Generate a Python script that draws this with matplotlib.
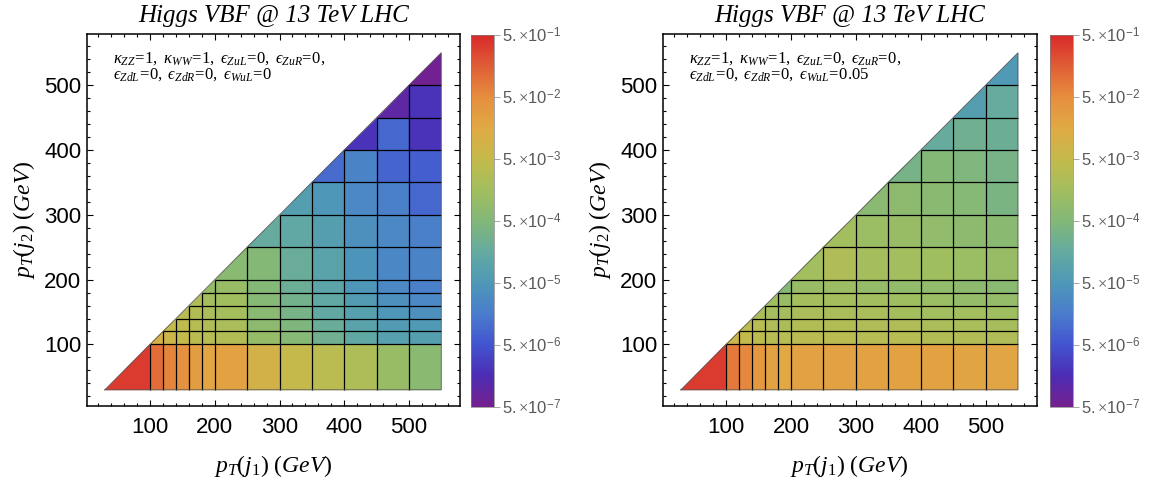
import numpy as np
import matplotlib
matplotlib.use('Agg')
import matplotlib.pyplot as plt
from matplotlib.colors import LinearSegmentedColormap, LogNorm
from matplotlib.collections import PolyCollection
from matplotlib.cm import ScalarMappable
from matplotlib.ticker import MultipleLocator, NullLocator

plt.rcParams['mathtext.fontset'] = 'custom'
plt.rcParams['mathtext.rm'] = 'Liberation Serif'
plt.rcParams['mathtext.it'] = 'Liberation Serif:italic'
plt.rcParams['mathtext.sf'] = 'Liberation Sans'

# pT bin edges in GeV (same binning for j1 and j2)
edges = [30, 100, 120, 140, 160, 180, 200, 250, 300, 350, 400, 450, 500, 550]

# per-bin values, row j = pT(j2) bin, entries run over pT(j1) bins j..12
xsec_sm = [
    [3.3e-1, 1.1e-1, 6.3e-2, 4.2e-2, 2.7e-2, 1.8e-2, 2.1e-2, 9.1e-3, 5.2e-3, 3.5e-3, 2.3e-3, 1.1e-3, 6.6e-4],
    [1.0e-2, 6.9e-3, 4.9e-3, 3.7e-3, 3.2e-3, 2.8e-3, 1.0e-3, 5.7e-4, 2.5e-4, 1.3e-4, 8.3e-5, 7.2e-5],
    [4.9e-3, 4.0e-3, 3.2e-3, 2.4e-3, 2.1e-3, 7.6e-4, 4.4e-4, 1.9e-4, 9.5e-5, 6.3e-5, 5.5e-5],
    [3.2e-3, 2.8e-3, 2.1e-3, 1.7e-3, 6.6e-4, 3.3e-4, 1.4e-4, 8.3e-5, 4.8e-5, 3.6e-5],
    [2.4e-3, 1.7e-3, 1.5e-3, 5.7e-4, 2.9e-4, 1.3e-4, 6.3e-5, 3.6e-5, 2.7e-5],
    [1.0e-3, 1.1e-3, 5.0e-4, 2.2e-4, 1.1e-4, 4.8e-5, 2.7e-5, 1.8e-5],
    [6.6e-4, 5.0e-4, 1.9e-4, 9.5e-5, 4.2e-5, 2.4e-5, 2.1e-5],
    [1.7e-4, 1.3e-4, 7.2e-5, 3.6e-5, 2.7e-5, 1.8e-5],
    [7.2e-5, 4.8e-5, 2.7e-5, 1.8e-5, 9.1e-6],
    [1.0e-5, 2.1e-5, 7.9e-6, 6.9e-6],
    [2.0e-6, 9.1e-6, 2.0e-6],
    [1.0e-6, 2.0e-6],
    [5.7e-7],
]

xsec_wul = [
    [3.3e-1, 8.3e-2, 5.5e-2, 3.2e-2, 2.1e-2, 1.6e-2, 2.2e-2, 2.2e-2, 2.1e-2, 2.1e-2, 2.1e-2, 2.0e-2, 1.8e-2],
    [6.9e-3, 4.9e-3, 3.7e-3, 3.2e-3, 3.2e-3, 3.5e-3, 3.5e-3, 3.2e-3, 3.2e-3, 2.8e-3, 2.8e-3, 2.4e-3],
    [3.7e-3, 3.2e-3, 2.4e-3, 2.1e-3, 2.8e-3, 2.8e-3, 2.4e-3, 2.4e-3, 2.1e-3, 2.0e-3, 1.9e-3],
    [2.0e-3, 1.7e-3, 1.7e-3, 2.1e-3, 2.1e-3, 2.0e-3, 1.7e-3, 1.6e-3, 1.6e-3, 1.4e-3],
    [1.4e-3, 1.1e-3, 1.7e-3, 1.7e-3, 1.6e-3, 1.4e-3, 1.2e-3, 1.0e-3, 1.0e-3],
    [5.0e-4, 1.1e-3, 1.3e-3, 1.0e-3, 8.7e-4, 8.7e-4, 7.6e-4, 6.6e-4],
    [1.6e-3, 2.4e-3, 1.7e-3, 1.6e-3, 1.4e-3, 1.2e-3, 1.1e-3],
    [1.6e-3, 1.2e-3, 1.1e-3, 8.7e-4, 7.6e-4, 6.6e-4],
    [6.6e-4, 7.6e-4, 6.6e-4, 5.7e-4, 3.8e-4],
    [3.3e-4, 5.0e-4, 4.4e-4, 3.3e-4],
    [1.7e-4, 2.5e-4, 2.2e-4],
    [7.2e-5, 1.7e-4],
    [5.5e-5],
]

cbar_ticks = [5e-1, 5e-2, 5e-3, 5e-4, 5e-5, 5e-6, 5e-7]
title = 'Higgs VBF @ 13 TeV LHC'
params_sm = [r'$\kappa_{ZZ}\!=\!1,\ \kappa_{WW}\!=\!1,\ ϵ_{ZuL}\!=\!0,\ ϵ_{ZuR}\!=\!0,$',
             r'$ϵ_{ZdL}\!=\!0,\ ϵ_{ZdR}\!=\!0,\ ϵ_{WuL}\!=\!0$']
params_wul = [r'$\kappa_{ZZ}\!=\!1,\ \kappa_{WW}\!=\!1,\ ϵ_{ZuL}\!=\!0,\ ϵ_{ZuR}\!=\!0,$',
              r'$ϵ_{ZdL}\!=\!0,\ ϵ_{ZdR}\!=\!0,\ ϵ_{WuL}\!=\!0.05$']

# Mathematica-like "Rainbow" gradient, purple -> red
cmap = LinearSegmentedColormap.from_list('rainbow_mma', [
    '#75208f', '#4c2cb4', '#4254d0', '#4a7ccc', '#4e98b8', '#64aaa0', '#82b878',
    '#a2be5e', '#c4ba4c', '#e0aa44', '#e68e3e', '#e05e36', '#d82a2a'])
norm = LogNorm(vmin=5e-7, vmax=5e-1)


def draw_panel(ax, cax, rows, params):
    polys, vals = [], []
    for j, row in enumerate(rows):
        y0, y1 = edges[j], edges[j + 1]
        for k, v in enumerate(row):
            i = j + k
            x0, x1 = edges[i], edges[i + 1]
            if i == j:
                polys.append([(x0, y0), (x1, y0), (x1, y1)])
            else:
                polys.append([(x0, y0), (x1, y0), (x1, y1), (x0, y1)])
            vals.append(v)
    pc = PolyCollection(polys, array=np.array(vals), cmap=cmap, norm=norm,
                        edgecolors='face', linewidths=0.3)
    ax.add_collection(pc)

    lo, hi = edges[0], edges[-1]
    for e in edges[1:-1]:
        ax.plot([e, e], [lo, e], color='k', lw=0.9, solid_capstyle='butt')
        ax.plot([e, hi], [e, e], color='k', lw=0.9, solid_capstyle='butt')
    ax.plot([lo, hi, hi, lo], [lo, lo, hi, lo], color='0.35', lw=0.6)

    ax.set_xlim(2, 579)
    ax.set_ylim(5, 579)
    ax.set_xticks([100, 200, 300, 400, 500])
    ax.set_yticks([100, 200, 300, 400, 500])
    ax.xaxis.set_minor_locator(MultipleLocator(20))
    ax.yaxis.set_minor_locator(MultipleLocator(20))
    ax.tick_params(which='both', direction='in', top=True, right=True,
                   labelsize=16, width=0.8, colors='k')
    ax.tick_params(which='major', length=4.5)
    ax.tick_params(which='minor', length=2.3)
    ax.tick_params(axis='x', pad=8)
    ax.tick_params(axis='y', pad=4)
    for lab in ax.get_xticklabels() + ax.get_yticklabels():
        lab.set_family(['Liberation Sans', 'DejaVu Sans'])
    for sp in ax.spines.values():
        sp.set_linewidth(1.1)

    ax.set_title(title, fontsize=18, family='Liberation Serif', style='italic', pad=9)
    ax.set_xlabel(r'$p_T(j_1)\ (GeV)$', fontsize=17, labelpad=11)
    ax.set_ylabel(r'$p_T(j_2)\ (GeV)$', fontsize=17, labelpad=5)

    ax.text(0.07, 0.936, params[0], transform=ax.transAxes, fontsize=12, va='center', ha='left')
    ax.text(0.07, 0.893, params[1], transform=ax.transAxes, fontsize=12, va='center', ha='left')

    sm = ScalarMappable(norm=norm, cmap=cmap)
    cb = plt.colorbar(sm, cax=cax)
    cb.set_ticks(cbar_ticks)
    cb.set_ticklabels([r'$\mathsf{5.}{\times}\mathsf{10}^{\mathsf{%d}}$' % int(np.log10(t / 5))
                       for t in cbar_ticks])
    cax.yaxis.set_minor_locator(NullLocator())
    cax.tick_params(which='major', length=4, width=0.6, color='0.6', labelcolor='0.35',
                    labelsize=12, pad=2)
    cb.outline.set_linewidth(0.5)
    cb.outline.set_edgecolor('0.5')


fig = plt.figure(figsize=(11.62, 4.86), dpi=100)
ax1 = fig.add_axes([0.0746, 0.1646, 0.3213, 0.7654])
cax1 = fig.add_axes([0.4053, 0.1626, 0.0198, 0.7654])
ax2 = fig.add_axes([0.5703, 0.1646, 0.3219, 0.7654])
cax2 = fig.add_axes([0.9036, 0.1626, 0.0195, 0.7654])

draw_panel(ax1, cax1, xsec_sm, params_sm)
draw_panel(ax2, cax2, xsec_wul, params_wul)

fig.savefig('out.png', dpi=100)
